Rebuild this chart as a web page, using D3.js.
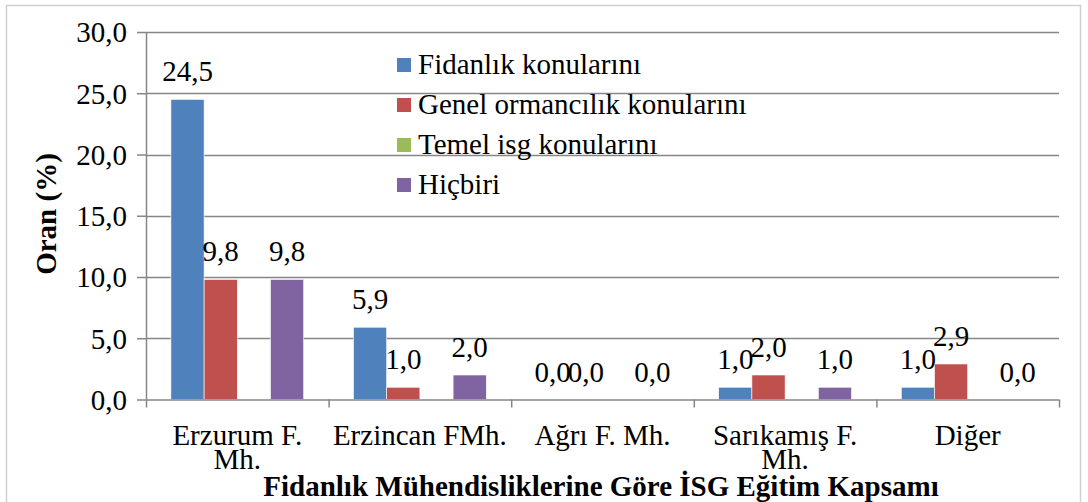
<!DOCTYPE html>
<html>
<head>
<meta charset="utf-8">
<script src="https://cdn.jsdelivr.net/npm/d3@7"></script>
<style>
  body { margin: 0; background: #fff; }
  svg text { font-family: "Liberation Serif", "Times New Roman", serif; fill: #000; }
</style>
</head>
<body>
<div id="chart"></div>
<script>
// categories and series
var categories = [["Erzurum F.", "Mh."], ["Erzincan FMh."], ["Ağrı F. Mh."], ["Sarıkamış F.", "Mh."], ["Diğer"]];
var seriesNames = ["Fidanlık konularını", "Genel ormancılık konularını", "Temel isg konularını", "Hiçbiri"];
var fidanlik = [24.5, 5.9, 0.0, 1.0, 1.0];
var genel = [9.8, 1.0, 0.0, 2.0, 2.9];
var temel = [null, null, null, null, null];
var hicbiri = [9.8, 2.0, 0.0, 1.0, 0.0];
var yTicks = [0, 5, 10, 15, 20, 25, 30];
var colors = ["#4F81BD", "#C0504D", "#9BBB59", "#8064A2"];

var allSeries = [fidanlik, genel, temel, hicbiri];

var W = 1088, H = 502;
var margin = {top: 32, right: 29, bottom: 102.5, left: 146};
var width = W - margin.left - margin.right,
    height = H - margin.top - margin.bottom;
var FS = 29;

var svg = d3.select("#chart").append("svg").attr("width", W).attr("height", H);

// outer frame
svg.append("rect")
  .attr("x", 6.5).attr("y", 5.5).attr("width", 1074).attr("height", 520)
  .attr("fill", "none").attr("stroke", "#d0d0d0").attr("stroke-width", 1.5);

var g = svg.append("g").attr("transform", "translate(" + margin.left + "," + margin.top + ")");

var catKeys = categories.map(function(d, i) { return i; });
var x0 = d3.scaleBand().domain(catKeys).range([0, width]).padding(0);
var x1 = d3.scaleBand().domain([0, 1, 2, 3]).range([0, x0.bandwidth()])
  .paddingInner(0).paddingOuter(0.75);
var y = d3.scaleLinear().domain([0, 30]).range([height, 0]);

var fmt = function(v) { return d3.format(".1f")(v).replace(".", ","); };

// gridlines
g.append("g").selectAll("line")
  .data(yTicks.slice(1))
  .enter().append("line")
    .attr("x1", 0).attr("x2", width)
    .attr("y1", function(d) { return Math.round(y(d)) + 0.5; })
    .attr("y2", function(d) { return Math.round(y(d)) + 0.5; })
    .attr("stroke", "#868686").attr("stroke-width", 1.5);

// bars
var data = [];
allSeries.forEach(function(s, si) {
  s.forEach(function(v, ci) { data.push({s: si, c: ci, v: v}); });
});

g.append("g").selectAll("rect")
  .data(data.filter(function(d) { return d.v !== null; }))
  .enter().append("rect")
    .attr("x", function(d) { return x0(d.c) + x1(d.s); })
    .attr("y", function(d) { return y(d.v); })
    .attr("width", x1.bandwidth())
    .attr("height", function(d) { return height - y(d.v); })
    .attr("fill", function(d) { return colors[d.s]; })
    .attr("stroke", "#fff").attr("stroke-width", 0.6);

// value labels
g.append("g").selectAll("text")
  .data(data.filter(function(d) { return d.v !== null; }))
  .enter().append("text")
    .attr("x", function(d) { return x0(d.c) + x1(d.s) + x1.bandwidth() / 2; })
    .attr("y", function(d) { return y(d.v) - 18; })
    .attr("text-anchor", "middle")
    .attr("font-size", FS)
    .text(function(d) { return fmt(d.v); });

// y axis
var yAxis = g.append("g")
  .call(d3.axisLeft(y).tickValues(yTicks).tickSize(9).tickPadding(10).tickFormat(fmt));
yAxis.select(".domain").attr("stroke", "#868686").attr("stroke-width", 1.5).attr("d", "M0.5," + height + "V0");
yAxis.selectAll(".tick line").attr("stroke", "#868686").attr("stroke-width", 1.5);
yAxis.selectAll(".tick text").attr("font-size", FS).attr("dy", "0.34em");

// x axis
var xAxis = g.append("g")
  .attr("transform", "translate(0," + height + ")")
  .call(d3.axisBottom(x0).tickSize(0).tickFormat(""));
xAxis.select(".domain").attr("stroke", "#868686").attr("stroke-width", 1.5).attr("d", "M0,0.5H" + width);

// category boundary ticks
xAxis.append("g").selectAll("line")
  .data(catKeys.concat([catKeys.length]))
  .enter().append("line")
    .attr("x1", function(d) { return d * x0.step() + 0.5; })
    .attr("x2", function(d) { return d * x0.step() + 0.5; })
    .attr("y1", 0).attr("y2", 8)
    .attr("stroke", "#868686").attr("stroke-width", 1.5);

// category labels
xAxis.append("g").selectAll("text")
  .data(categories)
  .enter().append("text")
    .attr("x", function(d, i) { return x0(i) + x0.bandwidth() / 2; })
    .attr("y", 45)
    .attr("text-anchor", "middle")
    .attr("font-size", FS)
    .each(function(d) {
      var t = d3.select(this);
      d.forEach(function(line, li) {
        t.append("tspan").attr("x", t.attr("x")).attr("dy", li === 0 ? 0 : 24).text(line);
      });
    });

// axis titles
svg.append("text")
  .attr("transform", "translate(56,214) rotate(-90)")
  .attr("text-anchor", "middle")
  .attr("font-size", FS).attr("font-weight", "bold")
  .text("Oran (%)");

svg.append("text")
  .attr("x", 601).attr("y", 496)
  .attr("text-anchor", "middle")
  .attr("font-size", FS).attr("font-weight", "bold")
  .text("Fidanlık Mühendisliklerine Göre İSG Eğitim Kapsamı");

// legend
var legend = svg.append("g").attr("transform", "translate(397,65)");
var li = legend.selectAll("g")
  .data(seriesNames)
  .enter().append("g")
    .attr("transform", function(d, i) { return "translate(0," + i * 40 + ")"; });
li.append("rect").attr("x", 0).attr("y", -7).attr("width", 14).attr("height", 14)
  .attr("fill", function(d, i) { return colors[i]; });
li.append("text").attr("x", 21).attr("y", 9)
  .attr("font-size", FS)
  .text(function(d) { return d; });
</script>
</body>
</html>
